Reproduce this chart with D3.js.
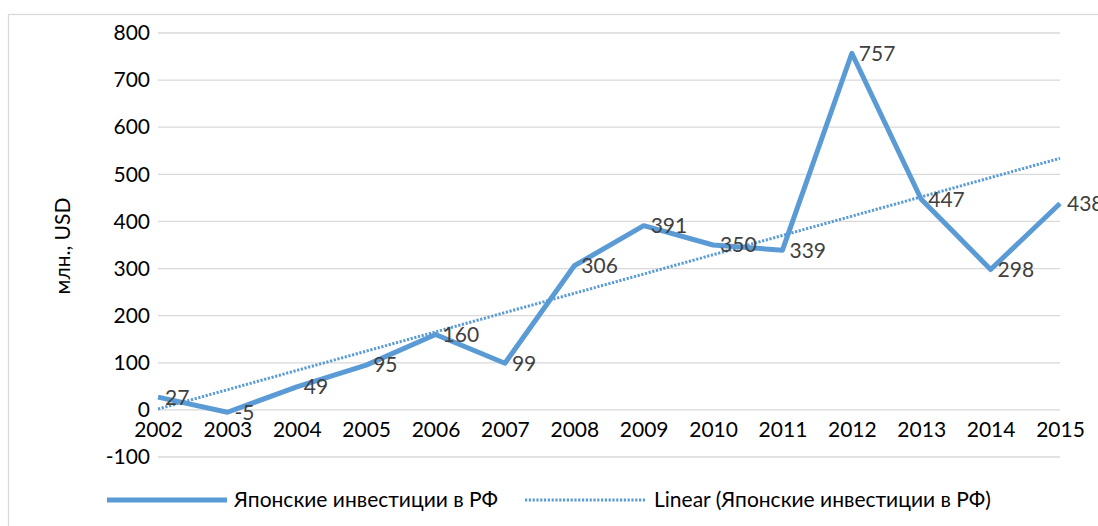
<!DOCTYPE html>
<html>
  <head>
    <meta charset=utf-8>
    <title>Японские инвестиции в РФ</title>
    <style>
      body{ margin:0; background:#fff; }
      text{ font-family: Lato, "Open Sans", sans-serif; }
      .grid line{ stroke:#d9d9d9; stroke-width:1.3; }
    </style>
  </head>
  <body>
    <script src="https://d3js.org/d3.v7.min.js"></script>
    <script>
      var years = [2002, 2003, 2004, 2005, 2006, 2007, 2008, 2009, 2010, 2011, 2012, 2013, 2014, 2015];
      var investments = [27, -5, 49, 95, 160, 99, 306, 391, 350, 339, 757, 447, 298, 438];
      var yTicks = [-100, 0, 100, 200, 300, 400, 500, 600, 700, 800];
      var seriesName = "Японские инвестиции в РФ";
      var trendName = "Linear (Японские инвестиции в РФ)";
      var yTitle = "млн., USD";

      var width = 1098, height = 526;
      var blue = "#5b9bd5";
      var fs = "21px";

      var svg = d3.select("body").append("svg")
        .attr("width", width)
        .attr("height", height);

      // chart border
      svg.append("rect")
        .attr("x", 8.5).attr("y", 14.5)
        .attr("width", width).attr("height", height)
        .style("fill", "none")
        .style("stroke", "#d9d9d9")
        .style("stroke-width", 1.3);

      var xScale = d3.scalePoint().domain(years).range([158, 1060]);
      var yScale = d3.scaleLinear().domain([-100, 800]).range([457, 33]);

      // gridlines
      svg.append("g").attr("class", "grid")
        .selectAll("line").data(yTicks).enter().append("line")
          .attr("x1", 158).attr("x2", 1060)
          .attr("y1", function(d) { return yScale(d); })
          .attr("y2", function(d) { return yScale(d); });

      // y axis labels
      var yAxis = d3.axisLeft(yScale).tickValues(yTicks).tickSize(0).tickPadding(8)
        .tickFormat(function(d) { return String(d); });
      var gy = svg.append("g").attr("transform", "translate(158,0)").call(yAxis);
      gy.select(".domain").remove();
      gy.selectAll("text").style("font-family", "Lato, sans-serif")
        .style("font-size", fs).style("fill", "#000");

      // x axis labels sit just under the zero line
      var xAxis = d3.axisBottom(xScale).tickSize(0).tickPadding(12);
      var gx = svg.append("g").attr("transform", "translate(0," + yScale(0) + ")").call(xAxis);
      gx.select(".domain").remove();
      gx.selectAll("text").style("font-family", "Lato, sans-serif")
        .style("font-size", fs).style("fill", "#000");

      // y title
      svg.append("text")
        .attr("text-anchor", "middle")
        .attr("transform", "translate(70,246)rotate(-90)")
        .style("font-size", fs)
        .text(yTitle);

      // linear trend (least squares on the series)
      var n = investments.length;
      var mx = d3.mean(d3.range(n)), my = d3.mean(investments);
      var sxy = d3.sum(investments, function(d, i) { return (i - mx) * (d - my); });
      var sxx = d3.sum(d3.range(n), function(i) { return (i - mx) * (i - mx); });
      var slope = sxy / sxx, intercept = my - slope * mx;

      svg.append("line")
        .attr("x1", xScale(years[0])).attr("y1", yScale(intercept))
        .attr("x2", xScale(years[n - 1])).attr("y2", yScale(intercept + slope * (n - 1)))
        .style("stroke", blue).style("stroke-width", 3)
        .style("stroke-dasharray", "2.2,1.6");

      var line = d3.line()
        .x(function(d, i) { return xScale(years[i]); })
        .y(function(d) { return yScale(d); });

      svg.append("path").datum(investments)
        .attr("d", line)
        .style("fill", "none")
        .style("stroke", blue)
        .style("stroke-width", 5)
        .style("stroke-linejoin", "round");

      // data labels
      svg.selectAll(".lbl").data(investments).enter().append("text")
        .attr("class", "lbl")
        .attr("x", function(d, i) { return xScale(years[i]) + 7; })
        .attr("y", function(d) { return yScale(d); })
        .attr("dy", "0.35em")
        .style("font-size", fs)
        .style("fill", "#404040")
        .text(function(d) { return d; });

      // legend
      var leg = svg.append("g");
      leg.append("line").attr("x1", 107).attr("x2", 227).attr("y1", 500).attr("y2", 500)
        .style("stroke", blue).style("stroke-width", 5);
      leg.append("text").attr("x", 234).attr("y", 500).attr("dy", "0.35em")
        .style("font-size", fs).text(seriesName);
      leg.append("line").attr("x1", 525).attr("x2", 646).attr("y1", 500).attr("y2", 500)
        .style("stroke", blue).style("stroke-width", 3).style("stroke-dasharray", "2.2,1.6");
      leg.append("text").attr("x", 654).attr("y", 500).attr("dy", "0.35em")
        .style("font-size", fs).text(trendName);
    </script>
  </body>
</html>
